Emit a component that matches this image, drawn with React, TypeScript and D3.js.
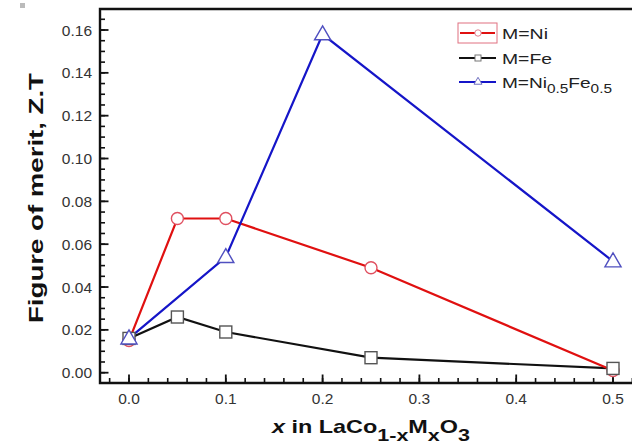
import React from "react";
import * as d3 from "d3";

const niX = [0, 0.05, 0.1, 0.25, 0.5];
const niY = [0.015, 0.072, 0.072, 0.049, 0.001];
const feX = [0, 0.05, 0.1, 0.25, 0.5];
const feY = [0.016, 0.026, 0.019, 0.007, 0.002];
const nifeX = [0, 0.1, 0.2, 0.5];
const nifeY = [0.016, 0.054, 0.158, 0.052];
const xTicks = [0, 0.1, 0.2, 0.3, 0.4, 0.5];
const yTicks = [0, 0.02, 0.04, 0.06, 0.08, 0.1, 0.12, 0.14, 0.16];

const W = 632, H = 446;
const L = 100, T = 9, B = 383, R = 645;
const AX = "#111";

export default function App() {
  const x = d3.scaleLinear().domain([0, 0.5]).range([129, 613]);
  const y = d3.scaleLinear().domain([0, 0.16]).range([372.7, 30]);
  const line = d3.line<[number, number]>().x(d => x(d[0])).y(d => y(d[1]));
  const pts = (xs: number[], ys: number[]) => xs.map((v, i) => [v, ys[i]] as [number, number]);
  const ni = pts(niX, niY), fe = pts(feX, feY), nife = pts(nifeX, nifeY);

  const xMinor = d3.range(-2, 27).map(i => i * 0.02).filter(v => x(v) > L + 1);
  const yMinor = d3.range(0, 34).map(i => i * 0.005);

  const tri = (cx: number, cy: number, s: number) =>
    `M${cx},${cy - s}L${cx + s * 0.95},${cy + s * 0.65}L${cx - s * 0.95},${cy + s * 0.65}Z`;

  const font = "Arial, 'Liberation Sans', sans-serif";

  return (
    <svg width={W} height={H} viewBox={`0 0 ${W} ${H}`} style={{ position: "absolute", left: 0, top: 0, background: "#fff", display: "block" }} fontFamily={font}>
      <rect x={20} y={3} width={5} height={5} fill="#bbb" />
      {/* frame */}
      <path d={`M${L},${T}H${R}M${L},${T - 1.2}V${B + 1.2}M${L - 1.2},${B}H${R}`} stroke={AX} strokeWidth={2.4} fill="none" />
      {/* y ticks */}
      {yMinor.map((v, i) => (
        <line key={"ym" + i} x1={L} x2={L + 5} y1={y(v)} y2={y(v)} stroke={AX} strokeWidth={1.6} />
      ))}
      {yTicks.map((v, i) => (
        <g key={"y" + i}>
          <line x1={L} x2={L + 8.5} y1={y(v)} y2={y(v)} stroke={AX} strokeWidth={1.8} />
          <text x={92} y={y(v) + 5.5} textAnchor="end" fontSize={15.5} fill="#333">{v.toFixed(2)}</text>
        </g>
      ))}
      {/* x ticks */}
      {xMinor.map((v, i) => (
        <line key={"xm" + i} x1={x(v)} x2={x(v)} y1={B} y2={B - 5} stroke={AX} strokeWidth={1.6} />
      ))}
      {xTicks.map((v, i) => (
        <g key={"x" + i}>
          <line x1={x(v)} x2={x(v)} y1={B} y2={B - 8.5} stroke={AX} strokeWidth={1.8} />
          <text x={x(v)} y={404} textAnchor="middle" fontSize={15.5} fill="#333">{v.toFixed(1)}</text>
        </g>
      ))}
      {/* lines */}
      <path d={line(fe) || ""} stroke="#111" strokeWidth={2.2} fill="none" />
      <path d={line(ni) || ""} stroke="#e01010" strokeWidth={2.2} fill="none" />
      <path d={line(nife) || ""} stroke="#1515c8" strokeWidth={2.2} fill="none" />
      {/* markers */}
      {ni.map((d, i) => (
        <circle key={"nm" + i} cx={x(d[0])} cy={y(d[1])} r={6} fill="#fff" stroke="#e05060" strokeWidth={1.4} />
      ))}
      {fe.map((d, i) => (
        <rect key={"fm" + i} x={x(d[0]) - 6} y={y(d[1]) - 6} width={12} height={12} fill="#fff" stroke="#555" strokeWidth={1.4} />
      ))}
      {nife.map((d, i) => (
        <path key={"tm" + i} d={tri(x(d[0]), y(d[1]), 8.5)} fill="#fff" stroke="#5050c0" strokeWidth={1.4} />
      ))}
      {/* legend */}
      <rect x={458} y={23} width={39} height={20} fill="none" stroke="#e07080" strokeWidth={1} />
      <path d="M460,33H495" stroke="#e01010" strokeWidth={2.2} />
      <circle cx={478} cy={33} r={3.2} fill="#fff" stroke="#e08090" strokeWidth={1} />
      <text x={502} y={39} fontSize={15.5} fill="#222" textLength={46} lengthAdjust="spacingAndGlyphs">M=Ni</text>
      <path d="M459,58H496" stroke="#111" strokeWidth={2.2} />
      <rect x={475} y={55} width={6} height={6} fill="#fff" stroke="#777" strokeWidth={1} />
      <text x={502} y={64} fontSize={15.5} fill="#222" textLength={50} lengthAdjust="spacingAndGlyphs">M=Fe</text>
      <path d="M459,82H496" stroke="#1515c8" strokeWidth={2.2} />
      <path d={tri(478, 81.5, 4.2)} fill="#fff" stroke="#7070c0" strokeWidth={1} />
      <text x={502} y={88} fontSize={15.5} fill="#222" textLength={110} lengthAdjust="spacingAndGlyphs">
        M=Ni<tspan dy={5} fontSize={12.5}>0.5</tspan><tspan dy={-5}>Fe</tspan><tspan dy={5} fontSize={12.5}>0.5</tspan>
      </text>
      {/* axis labels */}
      <text transform="translate(43,198) rotate(-90)" textAnchor="middle" fontSize={20} fontWeight="bold" fill="#111" textLength={250} lengthAdjust="spacingAndGlyphs">
        Figure of merit, Z.T
      </text>
      <text x={272} y={433} fontSize={18.5} fontWeight="bold" fill="#111" textLength={198} lengthAdjust="spacingAndGlyphs">
        <tspan fontStyle="italic">x</tspan> in LaCo<tspan dy={8} fontSize={17}>1-x</tspan><tspan dy={-8}>M</tspan><tspan dy={8} fontSize={17}>x</tspan><tspan dy={-8}>O</tspan><tspan dy={8} fontSize={17}>3</tspan>
      </text>
    </svg>
  );
}
